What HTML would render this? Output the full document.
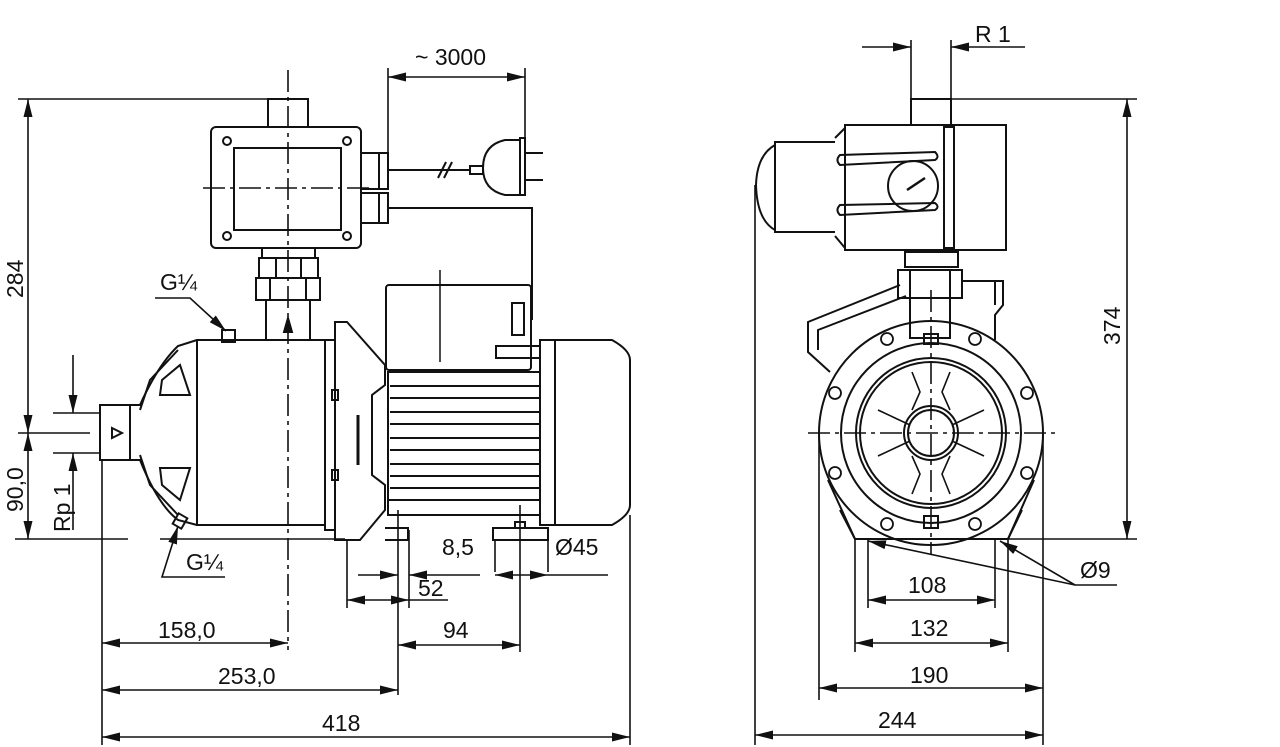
<!DOCTYPE html>
<html><head><meta charset="utf-8"><style>
html,body{margin:0;padding:0;background:#fff}
svg{display:block}
text{font-family:"Liberation Sans Narrow","Liberation Sans",sans-serif;font-size:23px;fill:#111}
</style></head><body>
<svg width="1280" height="747" viewBox="0 0 1280 747" xmlns="http://www.w3.org/2000/svg">
<defs>
<marker id="a" viewBox="0 0 18 9" refX="18" refY="4.5" markerWidth="18" markerHeight="9" markerUnits="userSpaceOnUse" orient="auto-start-reverse"><path d="M0,0 L18,4.5 L0,9 z" fill="#111"/></marker>
</defs>
<g fill="none" stroke="#111" stroke-width="2">
<line x1="288" y1="70" x2="288" y2="650" stroke-dasharray="22,5,4,5" stroke-width="1.6"/>
<line x1="203" y1="188" x2="372" y2="188" stroke-dasharray="22,5,4,5" stroke-width="1.6"/>
<rect x="268" y="99" width="40" height="28"/>
<rect x="211" y="127" width="150" height="121" rx="5"/>
<rect x="234" y="148" width="107" height="82"/>
<circle cx="227" cy="141" r="4"/><circle cx="347" cy="141" r="4"/>
<circle cx="227" cy="236" r="4"/><circle cx="347" cy="236" r="4"/>
<rect x="361" y="153" width="27" height="36"/><rect x="379" y="153" width="9" height="36"/>
<rect x="361" y="193" width="27" height="30"/><rect x="379" y="193" width="9" height="30"/>
<line x1="388" y1="170" x2="470" y2="170"/>
<line x1="438" y1="178" x2="446" y2="162"/><line x1="444" y1="178" x2="452" y2="162"/>
<rect x="470" y="166" width="13" height="8"/>
<path d="M520,140 L505,140 Q483,145 483,168 Q483,190 505,195 L520,195"/>
<rect x="520" y="138" width="5" height="57"/>
<line x1="525" y1="153" x2="543" y2="153"/><line x1="525" y1="180" x2="543" y2="180"/>
<polyline points="388,208 532,208 532,320"/>
<rect x="262" y="248" width="53" height="10"/>
<rect x="259" y="258" width="59" height="20"/>
<line x1="276" y1="258" x2="276" y2="278"/><line x1="301" y1="258" x2="301" y2="278"/>
<rect x="256" y="278" width="64" height="22"/>
<line x1="270" y1="278" x2="270" y2="300"/><line x1="306" y1="278" x2="306" y2="300"/>
<rect x="266" y="300" width="44" height="40"/>
<path d="M284,332 L288,318 L292,332 z" fill="#111"/>
<rect x="222" y="330" width="13" height="12"/>
<path d="M197,340 L325,340 L325,525 L197,525 z"/>
<path d="M197,340 L178,346 Q158,365 140,405 L130,405 L130,460 L140,460 Q158,505 178,520 L197,525"/>
<path d="M140,410 L150,380 L178,350"/><path d="M140,455 L150,485 L178,515"/>
<path d="M160,395 L162,380 L180,365 L190,395 z"/><path d="M160,468 L162,485 L180,500 L190,468 z"/>
<rect x="100" y="405" width="30" height="55"/>
<path d="M112,428 L122,433 L112,438 z"/>
<rect x="175" y="515" width="10" height="12" transform="rotate(30 180 521)"/>
<rect x="325" y="340" width="10" height="190"/>
<path d="M335,322 L347,322 L385,365 L385,385 L372,395 L372,475 L385,485 L385,510 L360,540 L335,540 z"/>
<rect x="332" y="390" width="6" height="10"/><rect x="332" y="470" width="6" height="10"/>
<path d="M358,415 L358,465" stroke-width="3"/>
<rect x="386" y="285" width="145" height="85" rx="3"/>
<line x1="440" y1="270" x2="440" y2="362" stroke-width="1.5"/>
<rect x="496" y="346" width="44" height="12"/>
<rect x="512" y="303" width="12" height="32"/>
<rect x="388" y="372" width="152" height="128"/>
<line x1="390" y1="386" x2="540" y2="386"/><line x1="390" y1="398" x2="540" y2="398"/>
<line x1="390" y1="412" x2="540" y2="412"/><line x1="390" y1="424" x2="540" y2="424"/>
<line x1="390" y1="438" x2="540" y2="438"/><line x1="390" y1="450" x2="540" y2="450"/>
<line x1="390" y1="464" x2="540" y2="464"/><line x1="390" y1="476" x2="540" y2="476"/>
<line x1="390" y1="488" x2="540" y2="488"/>
<path d="M388,500 L388,515 L540,515"/>
<rect x="540" y="340" width="15" height="185"/>
<path d="M555,340 L612,340 Q630,350 630,360 L630,505 Q630,515 612,525 L555,525"/>
<path d="M385,528 L408,528 L408,540 L385,540"/>
<rect x="493" y="528" width="55" height="12"/>
<rect x="515" y="522" width="10" height="6"/>
<line x1="18" y1="99" x2="268" y2="99" stroke-width="1.6"/>
<line x1="28" y1="99" x2="28" y2="433" marker-start="url(#a)" marker-end="url(#a)" stroke-width="1.6"/>
<line x1="28" y1="433" x2="28" y2="539" marker-start="url(#a)" marker-end="url(#a)" stroke-width="1.6"/>
<line x1="18" y1="433" x2="90" y2="433" stroke-width="1.6"/>
<line x1="15" y1="539" x2="128" y2="539" stroke-width="1.6"/>
<line x1="160" y1="539" x2="345" y2="539" stroke-width="1.6"/>
<line x1="73" y1="355" x2="73" y2="413" marker-end="url(#a)" stroke-width="1.6"/>
<line x1="73" y1="530" x2="73" y2="453" marker-end="url(#a)" stroke-width="1.6"/>
<line x1="53" y1="413" x2="100" y2="413" stroke-width="1.6"/>
<line x1="53" y1="453" x2="100" y2="453" stroke-width="1.6"/>
<polyline points="155,298 190,298 226,331" stroke-width="1.6" marker-end="url(#a)"/>
<polyline points="225,577 162,577 178,526" stroke-width="1.6" marker-end="url(#a)"/>
<line x1="388" y1="68" x2="388" y2="153" stroke-width="1.6"/>
<line x1="525" y1="68" x2="525" y2="138" stroke-width="1.6"/>
<line x1="388" y1="77" x2="525" y2="77" marker-start="url(#a)" marker-end="url(#a)" stroke-width="1.6"/>
<line x1="102" y1="460" x2="102" y2="745" stroke-width="1.6"/>
<line x1="398" y1="510" x2="398" y2="695" stroke-width="1.6"/>
<line x1="347" y1="540" x2="347" y2="608" stroke-width="1.6"/>
<line x1="409" y1="530" x2="409" y2="608" stroke-width="1.6"/>
<line x1="520" y1="505" x2="520" y2="652" stroke-width="1.6"/>
<line x1="495" y1="540" x2="495" y2="572" stroke-width="1.6"/>
<line x1="548" y1="540" x2="548" y2="572" stroke-width="1.6"/>
<line x1="630" y1="515" x2="630" y2="745" stroke-width="1.6"/>
<line x1="358" y1="575" x2="398" y2="575" marker-end="url(#a)" stroke-width="1.6"/>
<line x1="480" y1="575" x2="409" y2="575" marker-end="url(#a)" stroke-width="1.6"/>
<line x1="520" y1="575" x2="495" y2="575" marker-end="url(#a)" stroke-width="1.6"/>
<line x1="520" y1="575" x2="548" y2="575" marker-end="url(#a)" stroke-width="1.6"/>
<line x1="548" y1="575" x2="608" y2="575" stroke-width="1.6"/>
<line x1="378" y1="600" x2="347" y2="600" marker-end="url(#a)" stroke-width="1.6"/>
<line x1="378" y1="600" x2="409" y2="600" marker-end="url(#a)" stroke-width="1.6"/>
<line x1="409" y1="600" x2="448" y2="600" stroke-width="1.6"/>
<line x1="398" y1="645" x2="520" y2="645" marker-start="url(#a)" marker-end="url(#a)" stroke-width="1.6"/>
<line x1="102" y1="643" x2="288" y2="643" marker-start="url(#a)" marker-end="url(#a)" stroke-width="1.6"/>
<line x1="102" y1="690" x2="398" y2="690" marker-start="url(#a)" marker-end="url(#a)" stroke-width="1.6"/>
<line x1="102" y1="737" x2="630" y2="737" marker-start="url(#a)" marker-end="url(#a)" stroke-width="1.6"/>

<line x1="931" y1="290" x2="931" y2="555" stroke-dasharray="22,5,4,5" stroke-width="1.6"/>
<line x1="808" y1="433" x2="1055" y2="433" stroke-dasharray="22,5,4,5" stroke-width="1.6"/>
<rect x="911" y="99" width="40" height="26"/>
<rect x="845" y="125" width="161" height="125"/>
<rect x="944" y="127" width="10" height="121"/>
<path d="M835,142 L775,142 L775,232 L835,232"/>
<path d="M775,145 Q757,155 756,185 Q757,220 775,230"/>
<path d="M835,138 L845,128 M835,236 L845,248"/>
<path d="M840,155 Q835,160 840,165 L935,160 Q940,157 935,152 z"/>
<path d="M840,205 Q835,210 840,215 L935,210 Q940,207 935,203 z"/>
<circle cx="913" cy="186" r="25"/>
<path d="M907,190 L925,178" stroke-width="2.5"/>
<rect x="905" y="252" width="53" height="15"/>
<rect x="898" y="270" width="64" height="28"/>
<line x1="910" y1="270" x2="910" y2="298"/><line x1="950" y1="270" x2="950" y2="298"/>
<rect x="910" y="298" width="40" height="40"/>
<path d="M900,285 L808,322 L808,352 L830,372"/><path d="M906,296 L818,330 L818,350"/>
<path d="M962,281 L1003,281 L1003,305 L995,315 L995,340"/><line x1="995" y1="281" x2="995" y2="305"/>
<circle cx="931" cy="433" r="112"/>
<circle cx="931" cy="433" r="90"/>
<circle cx="931" cy="433" r="75"/>
<circle cx="931" cy="433" r="71"/>
<circle cx="931" cy="433" r="27"/>
<circle cx="931" cy="433" r="23"/>
<g stroke-width="1.8">
<circle cx="887" cy="339" r="6"/><circle cx="975" cy="339" r="6"/>
<circle cx="835" cy="393" r="6"/><circle cx="1027" cy="393" r="6"/>
<circle cx="835" cy="473" r="6"/><circle cx="1027" cy="473" r="6"/>
<circle cx="887" cy="524" r="6"/><circle cx="975" cy="524" r="6"/>
</g>
<g stroke-width="1.6">
<path d="M912,372 L920,392 L912,410"/><path d="M950,372 L942,392 L950,410"/>
<path d="M878,410 L895,418 L910,425"/><path d="M984,410 L967,418 L952,425"/>
<path d="M878,456 L895,448 L910,441"/><path d="M984,456 L967,448 L952,441"/>
<path d="M912,494 L920,474 L912,456"/><path d="M950,494 L942,474 L950,456"/>
</g>
<rect x="924" y="516" width="14" height="12"/>
<rect x="924" y="334" width="14" height="10"/>
<path d="M840,510 L855,539 L1008,539 L1022,510"/>
<path d="M828,480 L855,539 M1034,480 L1008,539"/>
<line x1="911" y1="40" x2="911" y2="99" stroke-width="1.6"/>
<line x1="951" y1="40" x2="951" y2="99" stroke-width="1.6"/>
<line x1="862" y1="47" x2="911" y2="47" marker-end="url(#a)" stroke-width="1.6"/>
<line x1="1025" y1="47" x2="951" y2="47" marker-end="url(#a)" stroke-width="1.6"/>
<line x1="951" y1="99" x2="1137" y2="99" stroke-width="1.6"/>
<line x1="1000" y1="539" x2="1137" y2="539" stroke-width="1.6"/>
<line x1="1127" y1="99" x2="1127" y2="539" marker-start="url(#a)" marker-end="url(#a)" stroke-width="1.6"/>
<line x1="755" y1="185" x2="755" y2="745" stroke-width="1.6"/>
<line x1="819" y1="433" x2="819" y2="700" stroke-width="1.6"/>
<line x1="1043" y1="433" x2="1043" y2="745" stroke-width="1.6"/>
<line x1="855" y1="539" x2="855" y2="652" stroke-width="1.6"/>
<line x1="868" y1="539" x2="868" y2="608" stroke-width="1.6"/>
<line x1="995" y1="539" x2="995" y2="608" stroke-width="1.6"/>
<line x1="1008" y1="539" x2="1008" y2="652" stroke-width="1.6"/>
<line x1="868" y1="600" x2="995" y2="600" marker-start="url(#a)" marker-end="url(#a)" stroke-width="1.6"/>
<line x1="855" y1="643" x2="1008" y2="643" marker-start="url(#a)" marker-end="url(#a)" stroke-width="1.6"/>
<line x1="819" y1="688" x2="1043" y2="688" marker-start="url(#a)" marker-end="url(#a)" stroke-width="1.6"/>
<line x1="755" y1="735" x2="1043" y2="735" marker-start="url(#a)" marker-end="url(#a)" stroke-width="1.6"/>
<polyline points="1117,585 1075,585 868,541" marker-end="url(#a)" stroke-width="1.6"/>
<line x1="1075" y1="585" x2="1000" y2="541" marker-end="url(#a)" stroke-width="1.6"/>
</g>
<text x="415" y="65">~ 3000</text>
<text x="160" y="290">G¼</text>
<text x="186" y="570">G¼</text>
<text x="442" y="555">8,5</text>
<text x="555" y="555">Ø45</text>
<text x="418" y="596">52</text>
<text x="443" y="638">94</text>
<text x="158" y="638">158,0</text>
<text x="218" y="684">253,0</text>
<text x="322" y="731">418</text>
<text transform="translate(23,298) rotate(-90)">284</text>
<text transform="translate(23,512) rotate(-90)">90,0</text>
<text transform="translate(70,532) rotate(-90)">Rp 1</text>
<text x="975" y="42">R 1</text>
<text transform="translate(1120,345) rotate(-90)">374</text>
<text x="908" y="593">108</text>
<text x="910" y="636">132</text>
<text x="910" y="683">190</text>
<text x="878" y="728">244</text>
<text x="1080" y="578">Ø9</text>
</svg>
</body></html>
